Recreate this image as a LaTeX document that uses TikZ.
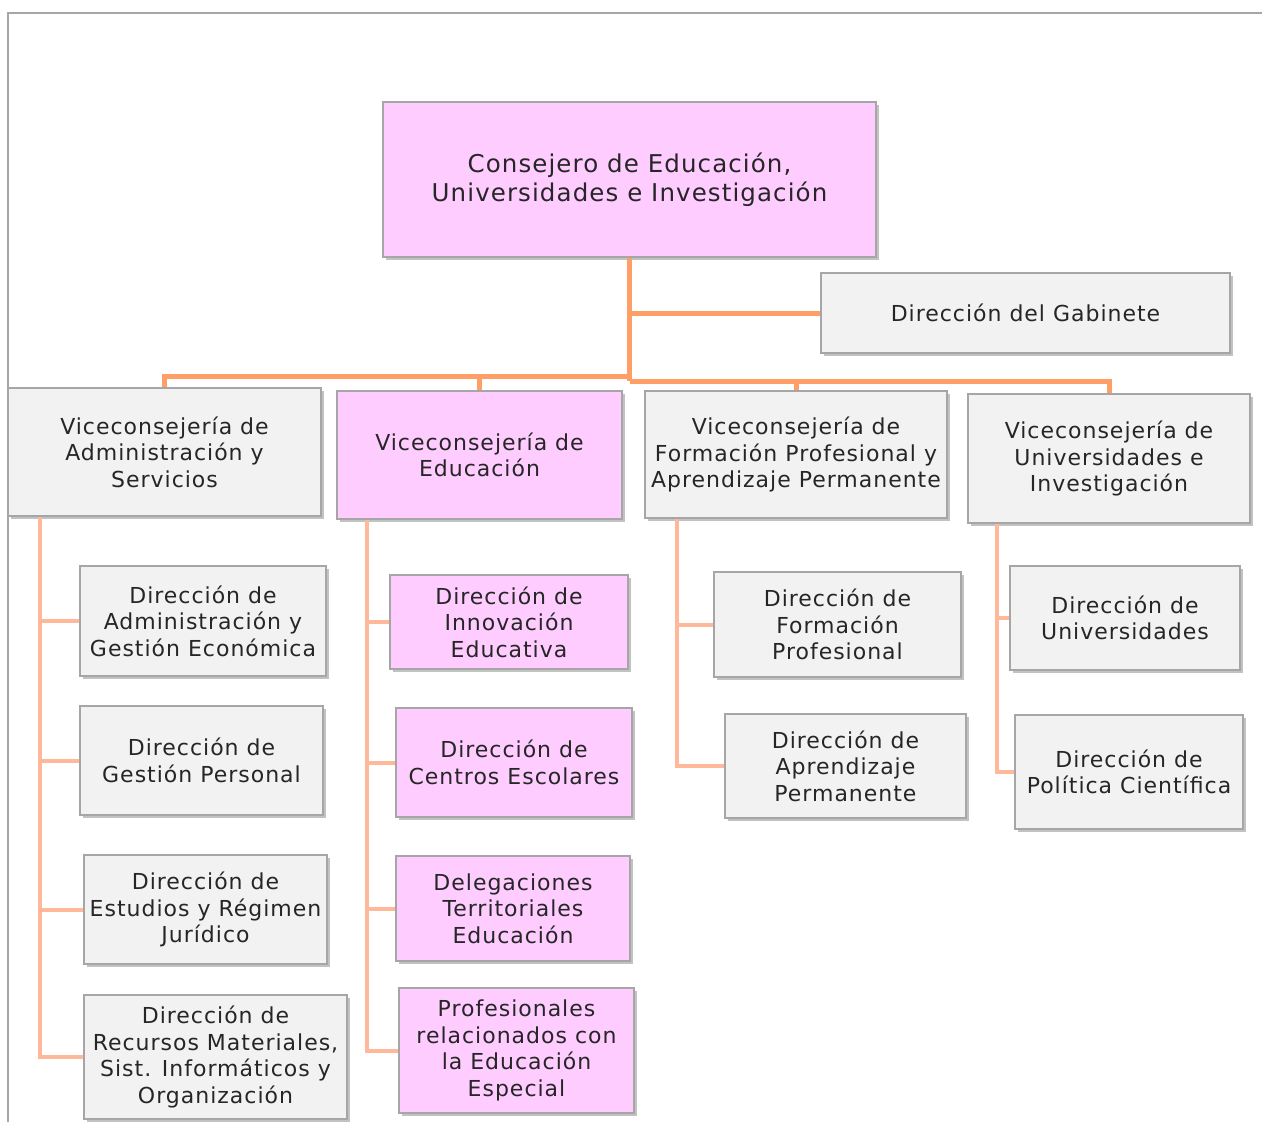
\documentclass[tikz,border=0pt]{standalone}
\usepackage{fontspec}
\setmainfont{DejaVu Sans}[LetterSpace=4.5]
\usetikzlibrary{shadows}
\definecolor{pinkfill}{HTML}{FFCCFF}
\definecolor{greyfill}{HTML}{F2F2F2}
\definecolor{boxline}{HTML}{A6A6A6}
\definecolor{mainlink}{HTML}{FF9E66}
\definecolor{sublink}{HTML}{FFB899}
\definecolor{frameline}{HTML}{A6A6A6}
\definecolor{txt}{HTML}{262626}
\tikzset{
  unit/.style={draw=boxline, line width=1.5pt, inner sep=0pt, align=center,
    text=txt, font=\fontsize{22}{26.5}\selectfont,
    drop shadow={shadow xshift=2.5pt, shadow yshift=-3pt, opacity=0.4, fill=black!60}},
  pinkunit/.style={unit, fill=pinkfill},
  greyunit/.style={unit, fill=greyfill},
  mainedge/.style={draw=mainlink, line width=5pt},
  subedge/.style={draw=sublink, line width=4pt},
}
\newcommand{\unitbox}[6]{\node[#1, minimum width=#2, minimum height=#3] (#4) at (#5) {#6};}
\begin{document}
\begin{tikzpicture}[x=1pt,y=-1pt]
\useasboundingbox (0,0) rectangle (1262,1122);
% page frame
\draw[frameline, line width=1.5pt] (8,1122) -- (8,13) -- (1262,13);

% top of the hierarchy
\node[pinkunit, minimum width=493, minimum height=155, font=\fontsize{24.5}{29}\selectfont] (cons) at (629.5,179.5)
  {Consejero de Educación,\\Universidades e Investigación};
\unitbox{greyunit}{409}{80}{gab}{1025.5,313}{Dirección del Gabinete}

% vice-councillorships
\unitbox{greyunit}{313}{128}{va}{164.5,452}{Viceconsejería de\\Administración y\\Servicios}
\unitbox{pinkunit}{285}{128}{ve}{479.5,455}{Viceconsejería de\\Educación}
\unitbox{greyunit}{302}{127}{vf}{796,454.5}{Viceconsejería de\\Formación Profesional y\\Aprendizaje Permanente}
\unitbox{greyunit}{282}{129}{vu}{1109,458.5}{Viceconsejería de\\Universidades e\\Investigación}

% directorates
\unitbox{greyunit}{246}{110}{a1}{203,621}{Dirección de\\Administración y\\Gestión Económica}
\unitbox{greyunit}{243}{109}{a2}{201.5,760.5}{Dirección de\\Gestión Personal}
\unitbox{greyunit}{243}{109}{a3}{205.5,909.5}{Dirección de\\Estudios y Régimen\\Jurídico}
\unitbox{greyunit}{263}{124}{a4}{215.5,1057}{Dirección de\\Recursos Materiales,\\Sist. Informáticos y\\Organización}

\unitbox{pinkunit}{238}{94}{e1}{509,622}{Dirección de\\Innovación\\Educativa}
\unitbox{pinkunit}{236}{109}{e2}{514,762.5}{Dirección de\\Centros Escolares}
\unitbox{pinkunit}{234}{105}{e3}{513,908.5}{Delegaciones\\Territoriales\\Educación}
\unitbox{pinkunit}{235}{125}{e4}{516.5,1050.5}{Profesionales\\relacionados con\\la Educación\\Especial}

\unitbox{greyunit}{247}{105}{f1}{837.5,624.5}{Dirección de\\Formación\\Profesional}
\unitbox{greyunit}{241}{104}{f2}{845.5,766}{Dirección de\\Aprendizaje\\Permanente}

\unitbox{greyunit}{230}{104}{u1}{1125,618}{Dirección de\\Universidades}
\unitbox{greyunit}{228}{114}{u2}{1129,772}{Dirección de\\Política Científica}

% junction points
\coordinate (hub) at (629.5,381);
\coordinate (busl) at (629.5,376);
\coordinate (ta) at (40,0);
\coordinate (te) at (367,0);
\coordinate (tf) at (677,0);
\coordinate (tu) at (997,0);

% main connectors
\draw[mainedge] (cons.south) -- (hub);
\draw[mainedge] (cons.south |- gab.west) -- (gab.west);
\draw[mainedge] (busl) -| (va.north);
\draw[mainedge] (busl -| ve.north) -- (ve.north);
\draw[mainedge] (hub) -| (vf.north);
\draw[mainedge] (hub) -| (vu.north);

% branches below each vice-councillorship
\draw[subedge] (va.south -| ta) |- (a4.west);
\draw[subedge] (ta |- a1.west) -- (a1.west);
\draw[subedge] (ta |- a2.west) -- (a2.west);
\draw[subedge] (ta |- a3.west) -- (a3.west);

\draw[subedge] (ve.south -| te) |- (e4.west);
\draw[subedge] (te |- e1.west) -- (e1.west);
\draw[subedge] (te |- e2.west) -- (e2.west);
\draw[subedge] (te |- e3.west) -- (e3.west);

\draw[subedge] (vf.south -| tf) |- (f2.west);
\draw[subedge] (tf |- f1.west) -- (f1.west);

\draw[subedge] (vu.south -| tu) |- (u2.west);
\draw[subedge] (tu |- u1.west) -- (u1.west);
\end{tikzpicture}
\end{document}
